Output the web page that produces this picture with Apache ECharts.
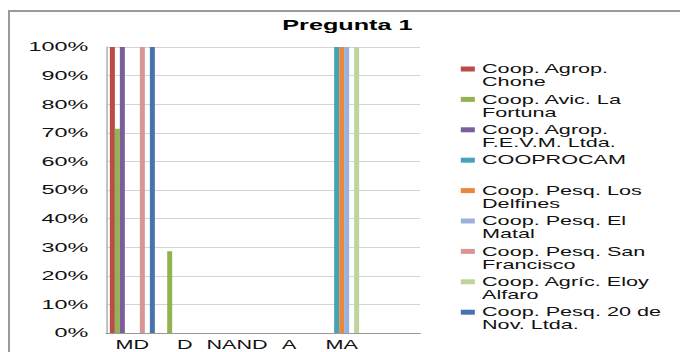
<!DOCTYPE html>
<html>
<head>
<meta charset="utf-8">
<script src="https://cdn.jsdelivr.net/npm/echarts@6/dist/echarts.min.js"></script>
<style>
    html, body { margin: 0; padding: 0; background: #fff; overflow: hidden; }
    #frame { position: absolute; left: 8px; top: 10px; width: 700px; height: 360px;
             border-left: 2px solid #9a9a9a; border-top: 2px solid #9a9a9a; }
    /* the source picture is stretched sideways, so the chart is drawn narrow and widened */
    #chart { position: absolute; left: 0; top: 0; width: 378px; height: 352px;
             transform: scaleX(1.8); transform-origin: 0 0; }
</style>
</head>
<body>
<div id="frame"></div>
<div id="chart"></div>
<script>
var categories = ['MD', 'D', 'NAND', 'A', 'MA', ''];
var yTicks = [0, 10, 20, 30, 40, 50, 60, 70, 80, 90, 100];

var coopNames = [
    'Coop. Agrop.\nChone',
    'Coop. Avic. La\nFortuna',
    'Coop. Agrop.\nF.E.V.M. Ltda.',
    'COOPROCAM\n ',
    'Coop. Pesq. Los\nDelfines',
    'Coop. Pesq. El\nMatal',
    'Coop. Pesq. San\nFrancisco',
    'Coop. Agríc. Eloy\nAlfaro',
    'Coop. Pesq. 20 de\nNov. Ltda.'
];
var chone        = [100, 0, 0, 0, 0, 0];
var fortuna      = [71.4, 28.6, 0, 0, 0, 0];
var fevm         = [100, 0, 0, 0, 0, 0];
var cooprocam    = [0, 0, 0, 0, 100, 0];
var losDelfines  = [0, 0, 0, 0, 100, 0];
var elMatal      = [0, 0, 0, 0, 100, 0];
var sanFrancisco = [100, 0, 0, 0, 0, 0];
var eloyAlfaro   = [0, 0, 0, 0, 100, 0];
var nov20        = [100, 0, 0, 0, 0, 0];

var seriesValues = [chone, fortuna, fevm, cooprocam, losDelfines, elMatal, sanFrancisco, eloyAlfaro, nov20];
var colors = ['#BA4B48', '#93B250', '#7B5E9C', '#45A2BB', '#E8883D', '#9AB2DA', '#D99594', '#BDD49A', '#4675AE'];

// legend icon: small bar aligned with the first text line
var legendIcon = 'path://M0,0 M0,4 L7.8,4 L7.8,9 L0,9 Z M7.8,26';

var series = seriesValues.map(function (vals, i) {
    return {
        name: coopNames[i],
        type: 'bar',
        data: vals,
        barGap: '0%',
        barCategoryGap: '14%',
        itemStyle: { color: colors[i] }
    };
});

var option = {
    animation: false,
    color: colors,
    title: {
        text: 'Pregunta 1',
        left: 193,
        top: 18,
        textAlign: 'center',
        padding: 0,
        textStyle: { fontFamily: 'Liberation Sans', fontSize: 14, fontWeight: 'bold', color: '#000' }
    },
    legend: {
        orient: 'vertical',
        left: 256,
        top: 62.5,
        padding: 0,
        itemWidth: 7.8,
        itemHeight: 26,
        itemGap: 4.4,
        icon: legendIcon,
        textStyle: { fontFamily: 'Liberation Sans', fontSize: 12, lineHeight: 13, color: '#111', padding: [0, 0, 0, -1] },
        data: coopNames
    },
    grid: { left: 59, top: 47, width: 174.4, bottom: 19, containLabel: false },
    xAxis: {
        type: 'category',
        data: categories,
        axisTick: { show: false },
        axisLine: { lineStyle: { color: '#999', width: 1 } },
        axisLabel: { interval: 0, margin: 6, fontFamily: 'Liberation Sans', fontSize: 12, color: '#111' }
    },
    yAxis: {
        type: 'value',
        min: yTicks[0],
        max: yTicks[yTicks.length - 1],
        interval: 10,
        axisLine: { show: true, lineStyle: { color: '#bbb' } },
        axisTick: { show: false },
        splitLine: { lineStyle: { color: '#d4d4d4', width: 1 } },
        axisLabel: { formatter: '{value}%', margin: 10, fontFamily: 'Liberation Sans', fontSize: 13, color: '#111' }
    },
    series: series
};

var chart = echarts.init(document.getElementById('chart'), null, { renderer: 'svg' });
chart.setOption(option);
</script>
</body>
</html>
